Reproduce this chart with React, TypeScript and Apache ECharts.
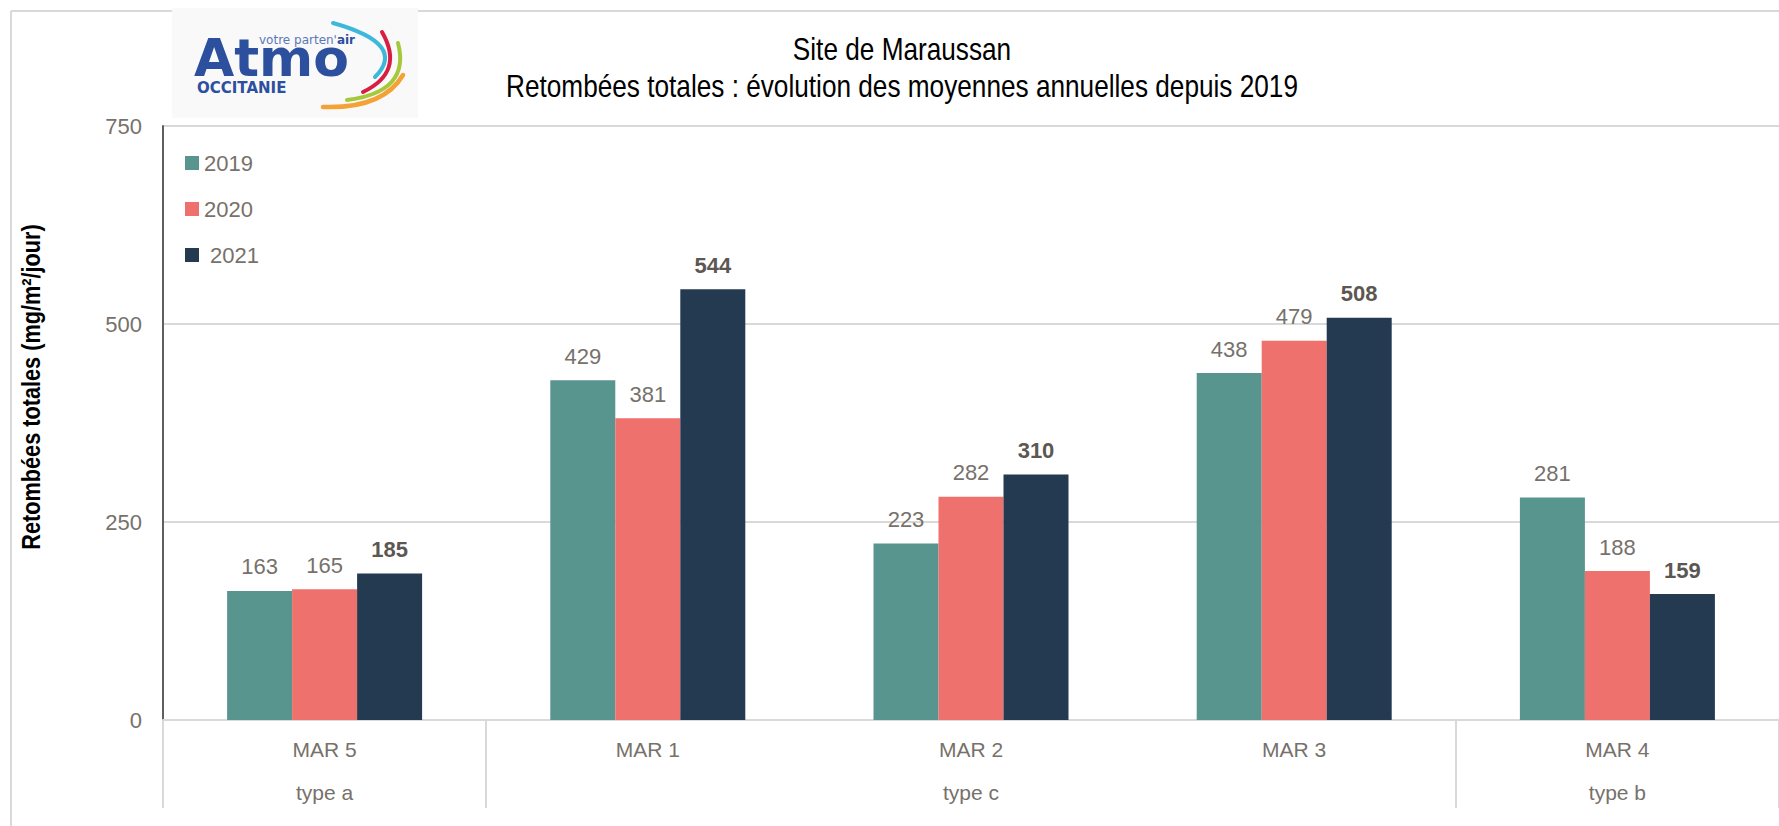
import React, { useEffect, useRef } from "react";
import * as echarts from "echarts";

const categories = ["MAR 5", "MAR 1", "MAR 2", "MAR 3", "MAR 4"];
const typeLabels = ["type a", "", "type c", "", "type b"];
const seriesNames = ["2019", "2020", "2021"];
const values2019 = [163, 429, 223, 438, 281];
const values2020 = [165, 381, 282, 479, 188];
const values2021 = [185, 544, 310, 508, 159];
const yTicks = { min: 0, max: 750, interval: 250 };

const FONT = "'Liberation Sans', Arial, sans-serif";
const LOGO_FONT = "'DejaVu Sans', sans-serif";
const COLORS = ["#58958F", "#EE716E", "#243A51"];
const TEXT = "#77716b";
const LOGO_BLUE = "#2c4f9e";

export default function App() {
  const ref = useRef<HTMLDivElement>(null);
  useEffect(() => {
    if (!ref.current) return;
    const chart = echarts.init(ref.current, undefined, { renderer: "svg" });
    const valueSets = [values2019, values2020, values2021];
    const option: any = {
      animation: false,
      backgroundColor: "#ffffff",
      textStyle: { fontFamily: FONT },
      grid: { left: 163, top: 126, height: 594, width: 1622 },
      legend: {
        orient: "vertical",
        left: 180,
        top: 145,
        itemWidth: 14,
        itemHeight: 14,
        itemGap: 20,
        icon: "rect",
        data: seriesNames,
        formatter: (n: string) => (n === "2021" ? " " + n : n),
        textStyle: { fontFamily: FONT, fontSize: 22, color: TEXT, lineHeight: 26 },
      },
      xAxis: {
        type: "category",
        data: categories,
        axisLine: { show: true, lineStyle: { color: "#d9d9d9", width: 2 } },
        axisTick: {
          show: true,
          length: 88,
          interval: (i: number) => i === 0 || i === 1 || i === 4,
          lineStyle: { color: "#d9d9d9", width: 2 },
        },
        axisLabel: {
          margin: 8,
          interval: 0,
          fontFamily: FONT,
          fontSize: 21,
          lineHeight: 43,
          color: TEXT,
          formatter: (v: string, i: number) => v + "\n" + typeLabels[i],
        },
      },
      yAxis: {
        type: "value",
        min: yTicks.min,
        max: yTicks.max,
        interval: yTicks.interval,
        axisLine: { show: true, lineStyle: { color: "#5f5f5f", width: 2 } },
        axisTick: { show: false },
        splitLine: { lineStyle: { color: "#d9d9d9", width: 2 } },
        axisLabel: { margin: 21, fontFamily: FONT, fontSize: 22, color: TEXT },
      },
      series: seriesNames.map((name, k) => ({
        type: "bar",
        name,
        data: valueSets[k],
        barWidth: 65,
        barGap: "0%",
        itemStyle: { color: COLORS[k] },
        label: {
          show: true,
          position: "top",
          distance: 13,
          fontFamily: FONT,
          fontSize: 22,
          fontWeight: k === 2 ? "bold" : "normal",
          color: k === 2 ? "#5c5752" : TEXT,
        },
      })),
      graphic: [
        { type: "line", shape: { x1: 11, y1: 11, x2: 11, y2: 826 }, style: { stroke: "#d9d9d9", lineWidth: 2 } },
        { type: "line", shape: { x1: 11, y1: 11, x2: 1779, y2: 11 }, style: { stroke: "#d9d9d9", lineWidth: 2 } },
        {
          type: "text",
          x: 902,
          y: 49,
          scaleX: 0.845,
          style: { text: "Site de Maraussan", font: `31px ${FONT}`, fill: "#000", align: "center", verticalAlign: "middle" },
        },
        {
          type: "text",
          x: 902,
          y: 86,
          scaleX: 0.845,
          style: {
            text: "Retombées totales : évolution des moyennes annuelles depuis 2019",
            font: `31px ${FONT}`,
            fill: "#000",
            align: "center",
            verticalAlign: "middle",
          },
        },
        {
          type: "text",
          x: 31,
          y: 387,
          rotation: Math.PI / 2,
          scaleX: 0.835,
          style: {
            text: "Retombées totales (mg/m²/jour)",
            font: `bold 26px ${FONT}`,
            fill: "#000",
            align: "center",
            verticalAlign: "middle",
          },
        },
        {
          type: "group",
          children: [
            { type: "rect", shape: { x: 172, y: 8, width: 246, height: 110 }, style: { fill: "#f9f9f9" } },
            {
              type: "text",
              x: 194,
              y: 58,
              style: {
                text: "Atmo",
                font: `bold 52px ${LOGO_FONT}`,
                fill: LOGO_BLUE,
                verticalAlign: "middle",
                lineHeight: 20,
              },
            },
            {
              type: "text",
              x: 259,
              y: 40,
              style: {
                text: "votre parten'{b|air}",
                font: `12px ${LOGO_FONT}`,
                fill: "#5b78b6",
                verticalAlign: "middle",
                lineHeight: 12,
                rich: { b: { fontWeight: "bold", fontSize: 12, fontFamily: LOGO_FONT, fill: LOGO_BLUE, lineHeight: 12 } },
              },
            },
            {
              type: "text",
              x: 197,
              y: 88,
              style: {
                text: "OCCITANIE",
                font: `bold 15px ${LOGO_FONT}`,
                fill: LOGO_BLUE,
                verticalAlign: "middle",
                lineHeight: 14,
              },
            },
            { type: "bezierCurve", shape: { x1: 333, y1: 23, x2: 375, y2: 77, cpx1: 408, cpy1: 44 }, style: { stroke: "#3cb8da", lineWidth: 4, lineCap: "round", fill: null } },
            { type: "bezierCurve", shape: { x1: 382, y1: 32, x2: 363, y2: 92, cpx1: 405, cpy1: 72 }, style: { stroke: "#d81f43", lineWidth: 4, lineCap: "round", fill: null } },
            { type: "bezierCurve", shape: { x1: 398, y1: 43, x2: 347, y2: 100, cpx1: 411, cpy1: 92 }, style: { stroke: "#a6c83b", lineWidth: 4, lineCap: "round", fill: null } },
            { type: "bezierCurve", shape: { x1: 403, y1: 75, x2: 323, y2: 107, cpx1: 383, cpy1: 109 }, style: { stroke: "#f4a236", lineWidth: 4.5, lineCap: "round", fill: null } },
          ],
        },
      ],
    };
    chart.setOption(option);
    return () => chart.dispose();
  }, []);
  return (
    <div
      ref={ref}
      style={{ position: "fixed", left: 0, top: 0, width: 1779, height: 826, background: "#fff" }}
    />
  );
}
